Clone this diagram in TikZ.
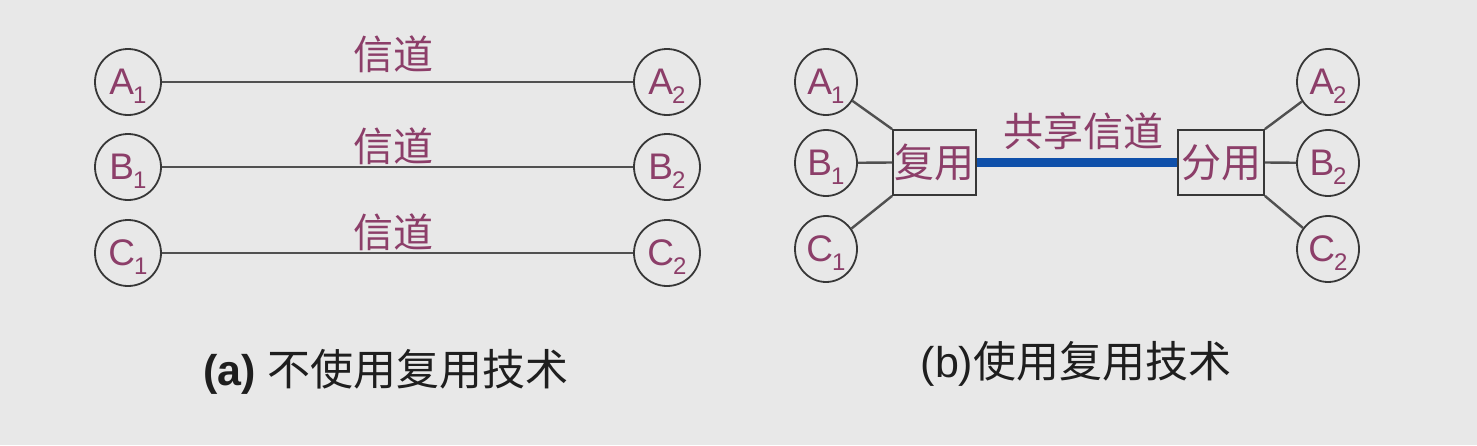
\documentclass[tikz,border=0pt]{standalone}
\usepackage{fontspec}
\setmainfont{Liberation Sans}
\newfontfamily\cjk{Noto Sans CJK SC}
\usetikzlibrary{shapes.geometric}
\definecolor{bg}{RGB}{232,232,232}
\definecolor{txtp}{RGB}{140,62,105}
\definecolor{edgec}{RGB}{55,55,55}
\definecolor{lineg}{RGB}{80,80,80}
\definecolor{chblue}{RGB}{15,80,170}
\definecolor{capc}{RGB}{30,30,30}
\newcommand{\stn}[2]{{\fontsize{37}{37}\selectfont #1}\hspace{-1pt}\smash{\raisebox{-9pt}{\fontsize{24}{24}\selectfont #2}}}
\begin{document}
\begin{tikzpicture}[x=1pt,y=-1pt,
  lc/.style={circle,draw=edgec,line width=1.8pt,minimum size=66pt,inner sep=0pt,text=txtp},
  re/.style={ellipse,draw=edgec,line width=1.8pt,minimum width=62pt,minimum height=66pt,inner sep=0pt,text=txtp},
  bx/.style={rectangle,draw=edgec,line width=1.8pt,minimum height=65pt,inner sep=0pt,text=txtp,font=\cjk\fontsize{40}{40}\selectfont},
  lbl/.style={inner sep=0pt,text=txtp,font=\cjk\fontsize{40}{40}\selectfont},
  captxt/.style={inner sep=0pt,text=capc,font=\fontsize{43}{43}\selectfont},
  conn/.style={draw=lineg,line width=2.4pt}]
\fill[bg] (0,0) rectangle (1477,445);
\useasboundingbox (0,0) rectangle (1477,445);
% (a)
\node[lc] (a1) at (128,82) {\stn{A}{1}};
\node[lc] (b1) at (128,167) {\stn{B}{1}};
\node[lc] (c1) at (128,253) {\stn{C}{1}};
\node[lc] (a2) at (667,82) {\stn{A}{2}};
\node[lc] (b2) at (667,167) {\stn{B}{2}};
\node[lc] (c2) at (667,253) {\stn{C}{2}};
\draw[conn] (a1) -- (a2);
\draw[conn] (b1) -- (b2);
\draw[conn] (c1) -- (c2);
\node[lbl] (ta) at (393,54) {信道};
\node[lbl] (tb) at (393,146) {信道};
\node[lbl] (tc) at (393,232) {信道};
% (b)
\node[re] (ra1) at (826,82) {\stn{A}{1}};
\node[re] (rb1) at (826,163) {\stn{B}{1}};
\node[re] (rc1) at (826,249) {\stn{C}{1}};
\node[re] (ra2) at (1328,82) {\stn{A}{2}};
\node[re] (rb2) at (1328,163) {\stn{B}{2}};
\node[re] (rc2) at (1328,249) {\stn{C}{2}};
\node[bx,minimum width=83pt] (mux) at (934.5,162.5) {复用};
\node[bx,minimum width=86pt] (demux) at (1221,162.5) {分用};
\draw[conn] (ra1) -- (mux.north west);
\draw[conn] (rb1) -- (mux.west);
\draw[conn] (rc1) -- (mux.south west);
\draw[conn] (demux.north east) -- (ra2);
\draw[conn] (demux.east) -- (rb2);
\draw[conn] (demux.south east) -- (rc2);
\draw[chblue,line width=9pt] (mux.east) -- (demux.west);
\node[lbl] (share) at (1083,131) {共享信道};
% captions
\node[captxt] (capa) at (386,372) {\textbf{(a)} {\cjk 不使用复用技术}};
\node[captxt] (capb) at (1076,364) {(b){\cjk 使用复用技术}};
\end{tikzpicture}
\end{document}
